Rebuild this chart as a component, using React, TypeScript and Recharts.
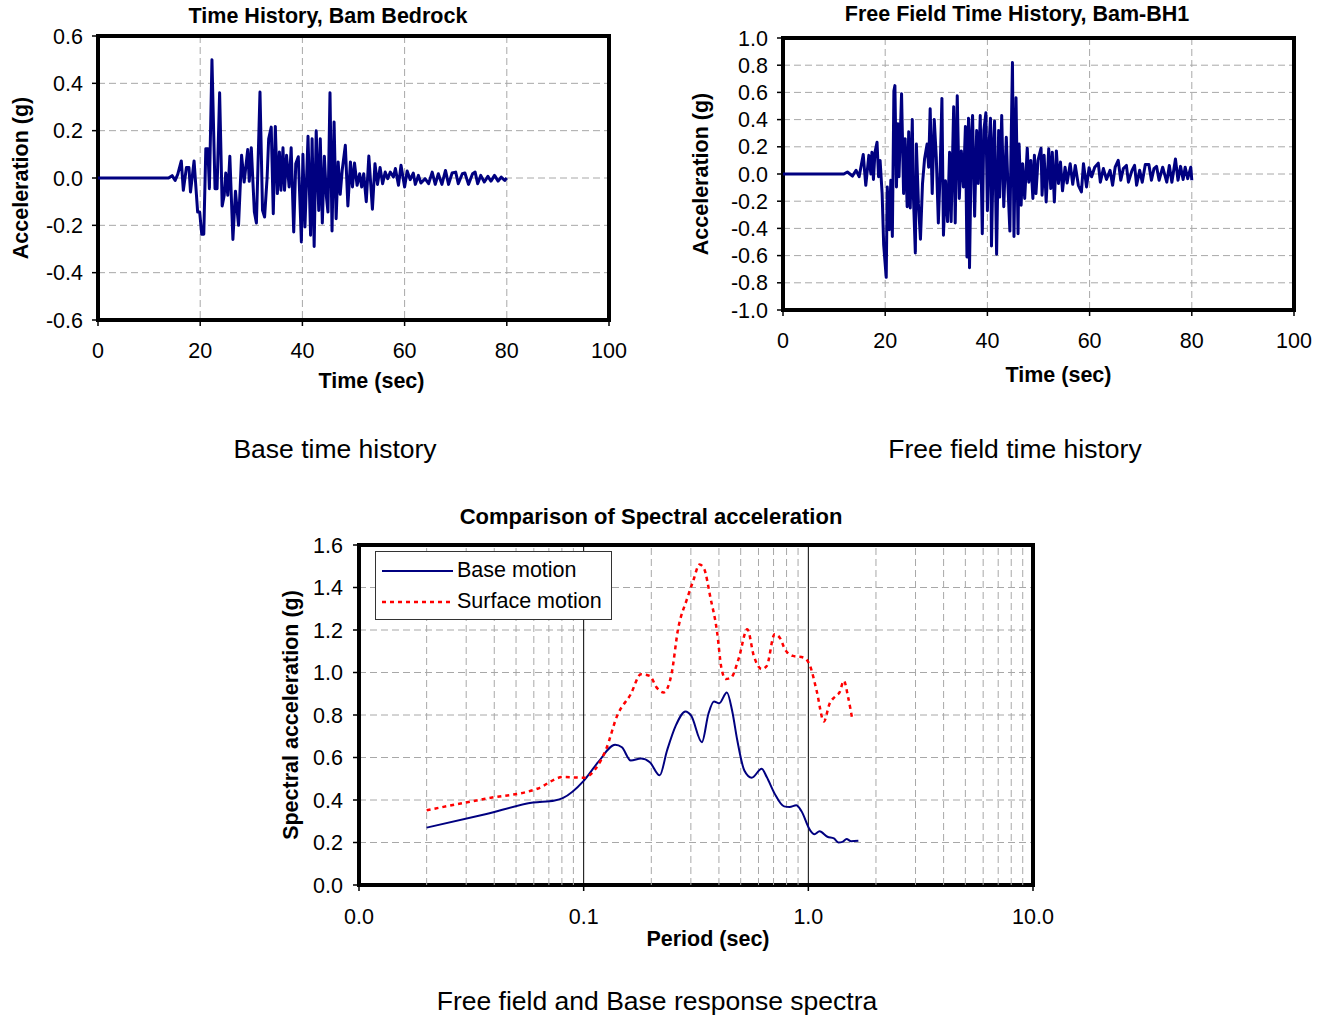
import React from 'react'
import {
  LineChart,
  Line,
  XAxis,
  YAxis,
  CartesianGrid,
  ReferenceLine,
  ReferenceArea,
  Legend,
} from 'recharts'

const FONT = '"Liberation Sans", Arial, Helvetica, sans-serif'
const NAVY = '#000080'
const GRID = '#a8a8a8'

// Bam bedrock record [time (s), acc (g)] - peaks
const bedrock: [number, number][] = [
  [0, 0], [13.8, 0], [14.5, 0.01], [15.1, -0.01], [15.6, 0.015], [16.3, 0.072], [16.7, -0.052],
  [17.3, 0.044], [17.8, 0.044], [18.1, -0.059], [18.8, 0.072], [19.5, -0.144], [19.9, -0.144],
  [20.3, -0.238], [20.7, -0.238], [21.1, 0.124], [21.5, 0.124], [21.8, -0.045], [22.3, 0.5],
  [22.9, -0.045], [23.3, -0.045], [23.8, 0.36], [24.3, -0.118], [24.7, -0.073], [25.0, 0.021],
  [25.4, -0.073], [25.8, 0.092], [26.4, -0.26], [26.9, -0.056], [27.5, -0.2], [28.1, 0.096],
  [28.6, -0.017], [29.3, 0.12], [29.6, -0.014], [30.0, 0.128], [30.6, -0.144], [31.0, -0.19],
  [31.7, 0.363], [32.2, -0.137], [32.6, -0.165], [33.1, 0.004], [33.4, 0.166], [33.9, 0.215],
  [34.3, -0.151], [34.7, 0.218], [35.1, -0.066], [35.5, 0.11], [35.8, -0.052], [36.2, 0.128],
  [36.5, -0.052], [36.9, 0.096], [37.4, -0.038], [37.8, 0.128], [38.3, -0.228], [38.7, 0.06],
  [39.2, 0.09], [39.8, -0.27], [40.1, 0.1], [40.5, -0.207], [41.1, 0.176], [41.6, -0.242],
  [41.9, 0.166], [42.3, -0.289], [42.7, 0.2], [43.2, -0.137], [43.5, 0.166], [43.9, -0.19],
  [44.3, 0.092], [44.7, -0.08], [45.0, -0.144], [45.4, 0.36], [45.8, -0.224], [46.2, 0.237],
  [46.6, -0.172], [47.0, 0.068], [47.4, -0.069], [47.8, 0.035], [48.4, 0.138], [48.9, -0.118],
  [49.4, 0.068], [49.8, -0.038], [50.2, 0.063], [50.7, -0.031], [51.2, 0.018], [51.6, -0.038],
  [52.0, 0.018], [52.5, -0.1], [53.0, 0.093], [53.7, -0.132], [54.2, 0.06], [54.7, -0.027],
  [55.2, 0.044], [55.7, -0.024], [56.2, 0.025], [56.7, -0.003], [57.2, 0.025], [57.8, 0.004],
  [58.2, 0.04], [58.8, -0.031], [59.3, 0.054], [60.0, -0.038], [60.5, 0.03], [61.1, -0.007],
  [61.7, 0.021], [62.1, -0.027], [62.7, 0.011], [63.2, -0.021], [64.0, -0.003], [64.7, -0.024],
  [65.4, 0.025], [66.0, -0.027], [66.6, 0.018], [67.3, -0.027], [68.0, 0.032], [68.6, -0.027],
  [69.3, 0.021], [70.0, 0.025], [70.5, -0.024], [71.3, 0.018], [71.8, 0.021], [72.5, -0.027],
  [73.3, 0.018], [73.8, 0.025], [74.3, -0.024], [74.9, 0.011], [75.6, -0.017], [76.3, 0.007],
  [76.9, -0.013], [77.6, 0.011], [78.3, -0.013], [78.9, 0.004], [79.6, -0.01], [80.0, 0],
]

// Free field record at Bam-BH1 [time (s), acc (g)]
const freeField: [number, number][] = [
  [0, 0], [11.9, 0], [12.6, 0.015], [13.6, -0.015], [14.3, 0.027], [14.9, -0.02], [15.7, 0.144],
  [16.2, -0.083], [16.8, 0.137], [17.2, 0.0], [17.4, 0.16], [17.7, -0.04], [18.0, 0.16],
  [18.4, 0.234], [18.7, -0.02], [19.0, 0.1], [19.4, -0.144], [19.7, -0.52], [20.2, -0.76],
  [20.4, -0.095], [20.8, -0.41], [21.1, -0.046], [21.4, -0.46], [21.7, 0.61], [21.9, 0.65],
  [22.2, -0.095], [22.5, 0.37], [22.7, -0.02], [23.2, 0.59], [23.6, -0.144], [23.9, 0.26],
  [24.3, -0.24], [24.6, 0.31], [24.9, -0.25], [25.3, 0.4], [25.5, -0.144], [25.9, -0.58],
  [26.1, 0.22], [26.5, -0.22], [26.9, -0.48], [27.3, -0.07], [27.7, 0.11], [28.2, 0.22],
  [28.5, 0.05], [28.8, 0.48], [29.2, -0.144], [29.6, 0.4], [30.0, 0.12], [30.4, -0.36],
  [30.7, -0.046], [31.1, 0.556], [31.4, -0.45], [31.8, -0.05], [32.2, -0.35], [32.6, 0.16],
  [32.9, -0.35], [33.4, 0.495], [33.7, -0.36], [34.1, 0.576], [34.5, -0.18], [34.9, 0.17],
  [35.3, -0.095], [35.7, 0.35], [36.0, -0.61], [36.3, 0.41], [36.5, -0.69], [36.9, 0.32],
  [37.1, 0.43], [37.5, -0.31], [37.9, 0.32], [38.2, -0.07], [38.6, 0.43], [39.0, -0.44],
  [39.3, 0.32], [39.7, 0.45], [40.0, -0.27], [40.3, 0.2], [40.6, 0.41], [40.8, -0.53],
  [41.2, 0.25], [41.4, 0.39], [41.8, -0.59], [42.2, 0.32], [42.4, -0.17], [42.8, 0.43],
  [43.2, -0.24], [43.7, 0.27], [44.0, -0.07], [44.4, -0.42], [44.6, 0.12], [44.9, 0.82],
  [45.2, -0.46], [45.6, 0.56], [46.0, -0.44], [46.2, 0.22], [46.6, -0.23], [46.9, 0.076],
  [47.3, -0.18], [47.8, 0.19], [48.1, -0.06], [48.5, 0.1], [48.9, -0.18], [49.2, 0.137],
  [49.5, -0.144], [49.9, 0.1], [50.5, 0.19], [50.7, -0.156], [51.1, 0.137], [51.5, -0.205],
  [52.0, 0.185], [52.4, -0.107], [52.7, 0.16], [53.1, -0.205], [53.5, 0.17], [53.9, -0.07],
  [54.3, 0.088], [54.7, -0.124], [55.2, 0.05], [55.6, -0.066], [56.2, 0.076], [56.7, -0.076],
  [57.2, 0.063], [57.8, -0.083], [58.4, -0.132], [58.8, 0.076], [59.4, -0.095], [59.9, 0.046],
  [60.4, -0.02], [61.0, 0.05], [61.7, 0.08], [62.1, -0.06], [62.7, 0.04], [63.3, -0.04],
  [64.0, 0.027], [64.5, -0.083], [65.0, 0.05], [65.6, 0.1], [66.1, -0.046], [66.6, 0.04],
  [67.2, 0.063], [67.6, -0.06], [68.3, 0.027], [68.8, 0.063], [69.2, -0.083], [69.8, 0.027],
  [70.3, -0.06], [70.9, 0.07], [71.6, 0.07], [72.1, -0.046], [72.6, 0.04], [73.1, 0.056],
  [73.6, -0.046], [74.3, 0.05], [75.1, -0.06], [75.6, 0.063], [76.1, -0.06], [76.8, 0.11],
  [77.3, -0.046], [77.8, 0.056], [78.3, -0.04], [78.7, 0.05], [79.2, -0.034], [79.8, 0.05],
  [80.0, -0.046],
]

// Response spectra [period (s), Sa (g)]
const baseSpectrum: [number, number][] = [
  [0.02, 0.27], [0.0365, 0.333], [0.0596, 0.388], [0.0743, 0.398], [0.081, 0.41], [0.1, 0.49],
  [0.116, 0.578], [0.138, 0.66], [0.148, 0.648], [0.162, 0.586], [0.18, 0.595], [0.197, 0.578],
  [0.218, 0.516], [0.235, 0.633], [0.257, 0.75], [0.284, 0.817], [0.301, 0.797], [0.336, 0.672],
  [0.359, 0.805], [0.38, 0.864], [0.401, 0.855], [0.434, 0.906], [0.458, 0.82], [0.483, 0.68],
  [0.519, 0.539], [0.56, 0.505], [0.62, 0.547], [0.653, 0.508], [0.708, 0.43], [0.78, 0.37],
  [0.826, 0.367], [0.883, 0.375], [0.931, 0.348], [1.018, 0.258], [1.064, 0.239], [1.122, 0.253],
  [1.216, 0.227], [1.3, 0.219], [1.36, 0.2], [1.42, 0.203], [1.48, 0.216], [1.55, 0.206],
  [1.67, 0.208],
]

const surfaceSpectrum: [number, number][] = [
  [0.02, 0.352], [0.0365, 0.406], [0.0622, 0.453], [0.081, 0.508], [0.1, 0.505], [0.113, 0.547],
  [0.126, 0.64], [0.141, 0.797], [0.162, 0.898], [0.18, 0.992], [0.197, 0.984], [0.211, 0.93],
  [0.227, 0.906], [0.246, 0.992], [0.263, 1.203], [0.288, 1.344], [0.307, 1.43], [0.328, 1.508],
  [0.343, 1.49], [0.367, 1.35], [0.392, 1.195], [0.41, 1.023], [0.429, 0.969], [0.454, 0.977],
  [0.489, 1.063], [0.535, 1.203], [0.572, 1.078], [0.62, 1.016], [0.653, 1.031], [0.708, 1.18],
  [0.746, 1.164], [0.787, 1.109], [0.853, 1.078], [0.953, 1.07], [1.018, 1.031], [1.089, 0.914],
  [1.173, 0.77], [1.242, 0.852], [1.327, 0.89], [1.377, 0.906], [1.439, 0.961], [1.504, 0.883],
  [1.573, 0.773],
]

const timeTicks = [0, 20, 40, 60, 80, 100]
const bedrockTicks = [-0.6, -0.4, -0.2, 0, 0.2, 0.4, 0.6]
const freeFieldTicks = [-1, -0.8, -0.6, -0.4, -0.2, 0, 0.2, 0.4, 0.6, 0.8, 1]
const periodTicks = [0.01, 0.1, 1, 10]
const periodMinor = [
  0.02, 0.03, 0.04, 0.05, 0.06, 0.07, 0.08, 0.09,
  0.2, 0.3, 0.4, 0.5, 0.6, 0.7, 0.8, 0.9,
  2, 3, 4, 5, 6, 7, 8, 9,
]
const saTicks = [0, 0.2, 0.4, 0.6, 0.8, 1, 1.2, 1.4, 1.6]

const toRows = (pts: [number, number][]) => pts.map(([x, y]) => ({ x, y }))

const tickStyle = { fontSize: 21.5, fill: '#000', fontFamily: FONT }
const axisTitle = { fontSize: 21.5, fontWeight: 'bold', fill: '#000', fontFamily: FONT }
const fmt1 = (v: number) => v.toFixed(1)

function Text({ x, y, size, bold, children }: any) {
  return (
    <div
      style={{
        position: 'absolute',
        left: x,
        top: y,
        transform: 'translate(-50%, -50%)',
        whiteSpace: 'nowrap',
        fontFamily: FONT,
        fontSize: size,
        fontWeight: bold ? 'bold' : 'normal',
        color: '#000',
      }}
    >
      {children}
    </div>
  )
}

function TimeHistory({ rows, ticks, yMax, width, height, margin, yWidth, yTitleOffset, xTitleOffset, xTitleShift }: any) {
  return (
    <LineChart width={width} height={height} data={rows} margin={margin}>
      <CartesianGrid stroke={GRID} strokeDasharray="7 4" />
      <XAxis
        dataKey="x"
        type="number"
        domain={[0, 100]}
        ticks={timeTicks}
        interval={0}
        height={80}
        axisLine={false}
        tickLine={{ stroke: '#000', strokeWidth: 1.5 }}
        tickSize={6}
        tickMargin={17}
        tick={tickStyle}
        label={{
          value: 'Time (sec)',
          position: 'insideBottom',
          offset: xTitleOffset,
          dx: xTitleShift,
          style: axisTitle,
        }}
      />
      <YAxis
        type="number"
        domain={[-yMax, yMax]}
        ticks={ticks}
        interval={0}
        width={yWidth}
        axisLine={false}
        tickLine={{ stroke: '#000', strokeWidth: 1.5 }}
        tickSize={6}
        tickMargin={9}
        tick={tickStyle}
        tickFormatter={fmt1}
        label={{
          value: 'Acceleration (g)',
          angle: -90,
          position: 'insideLeft',
          offset: yTitleOffset,
          textAnchor: 'middle',
          style: axisTitle,
        }}
      />
      <Line
        dataKey="y"
        type="linear"
        stroke={NAVY}
        strokeWidth={3}
        strokeLinejoin="round"
        dot={false}
        isAnimationActive={false}
      />
      <ReferenceArea
        x1={0}
        x2={100}
        y1={-yMax}
        y2={yMax}
        fill="none"
        fillOpacity={0}
        stroke="#000"
        strokeWidth={4}
      />
    </LineChart>
  )
}

function SpectraLegend({ payload }: any) {
  return (
    <div
      style={{
        border: '1px solid #333',
        background: '#fff',
        width: 230,
        padding: '3px 0 2px 5px',
        fontFamily: FONT,
        fontSize: 21.5,
        lineHeight: '31px',
      }}
    >
      {(payload || []).map((p: any) => (
        <div key={p.value} style={{ display: 'flex', alignItems: 'center' }}>
          <svg width={76} height={10}>
            <line
              x1={1}
              y1={5}
              x2={72}
              y2={5}
              stroke={p.color}
              strokeWidth={p.payload?.strokeWidth ?? 2}
              strokeDasharray={p.payload?.strokeDasharray}
            />
          </svg>
          <span>{p.value}</span>
        </div>
      ))}
    </div>
  )
}

function Spectra() {
  return (
    <LineChart width={800} height={470} margin={{ top: 45, right: 27, bottom: 5, left: 0 }}>
      <CartesianGrid stroke={GRID} strokeDasharray="7 4" vertical={false} />
      {periodMinor.map((v) => (
        <ReferenceLine key={v} x={v} stroke={GRID} strokeDasharray="7 4" />
      ))}
      <ReferenceLine x={0.1} stroke="#000" strokeWidth={1} />
      <ReferenceLine x={1} stroke="#000" strokeWidth={1} />
      <XAxis
        dataKey="x"
        type="number"
        scale="log"
        domain={[0.01, 10]}
        ticks={periodTicks}
        interval={0}
        allowDuplicatedCategory={false}
        height={80}
        axisLine={false}
        tickLine={{ stroke: '#000', strokeWidth: 1.5 }}
        tickSize={6}
        tickMargin={18}
        tick={tickStyle}
        tickFormatter={fmt1}
        label={{ value: 'Period (sec)', position: 'insideBottom', offset: 19, dx: 12, style: axisTitle }}
      />
      <YAxis
        type="number"
        domain={[0, 1.6]}
        ticks={saTicks}
        interval={0}
        width={99}
        axisLine={false}
        tickLine={{ stroke: '#000', strokeWidth: 1.5 }}
        tickSize={6}
        tickMargin={10}
        tick={tickStyle}
        tickFormatter={fmt1}
        label={{
          value: 'Spectral acceleration (g)',
          angle: -90,
          position: 'insideLeft',
          offset: 30,
          textAnchor: 'middle',
          style: axisTitle,
        }}
      />
      <Line
        data={toRows(baseSpectrum)}
        dataKey="y"
        name="Base motion"
        type="monotone"
        stroke={NAVY}
        strokeWidth={2}
        dot={false}
        isAnimationActive={false}
      />
      <Line
        data={toRows(surfaceSpectrum)}
        dataKey="y"
        name="Surface motion"
        type="monotone"
        stroke="#ff0000"
        strokeWidth={2.5}
        strokeDasharray="4 4"
        dot={false}
        isAnimationActive={false}
      />
      <ReferenceArea
        x1={0.01}
        x2={10}
        y1={0}
        y2={1.6}
        fill="none"
        fillOpacity={0}
        stroke="#000"
        strokeWidth={4}
      />
      <Legend
        layout="vertical"
        align="center"
        verticalAlign="middle"
        content={<SpectraLegend />}
        wrapperStyle={{ position: 'absolute', left: 115, top: 51, width: 'auto', height: 'auto' }}
      />
    </LineChart>
  )
}

export default function App() {
  return (
    <div
      style={{
        position: 'absolute',
        left: 0,
        top: 0,
        width: 1321,
        height: 1016,
        background: '#fff',
        fontFamily: FONT,
        overflow: 'hidden',
      }}
    >
      <div style={{ position: 'absolute', left: 0, top: 0 }}>
        <TimeHistory
          rows={toRows(bedrock)}
          ticks={bedrockTicks}
          yMax={0.6}
          width={640}
          height={400}
          margin={{ top: 36, right: 31, bottom: 0, left: 0 }}
          yWidth={98}
          yTitleOffset={20}
          xTitleOffset={12}
          xTitleShift={18}
        />
      </div>
      <div style={{ position: 'absolute', left: 680, top: 0 }}>
        <TimeHistory
          rows={toRows(freeField)}
          ticks={freeFieldTicks}
          yMax={1}
          width={641}
          height={400}
          margin={{ top: 38, right: 27, bottom: 10, left: 0 }}
          yWidth={103}
          yTitleOffset={20}
          xTitleOffset={8}
          xTitleShift={20}
        />
      </div>
      <div style={{ position: 'absolute', left: 260, top: 500 }}>
        <Spectra />
      </div>

      <Text x={328} y={16} size={21.5} bold>Time History, Bam Bedrock</Text>
      <Text x={1017} y={14} size={21.5} bold>Free Field Time History, Bam-BH1</Text>
      <Text x={651} y={517} size={22} bold>Comparison of Spectral acceleration</Text>

      <Text x={335} y={449} size={26.5}>Base time history</Text>
      <Text x={1015} y={449} size={26.5}>Free field time history</Text>
      <Text x={657} y={1001} size={26.5}>Free field and Base response spectra</Text>
    </div>
  )
}
